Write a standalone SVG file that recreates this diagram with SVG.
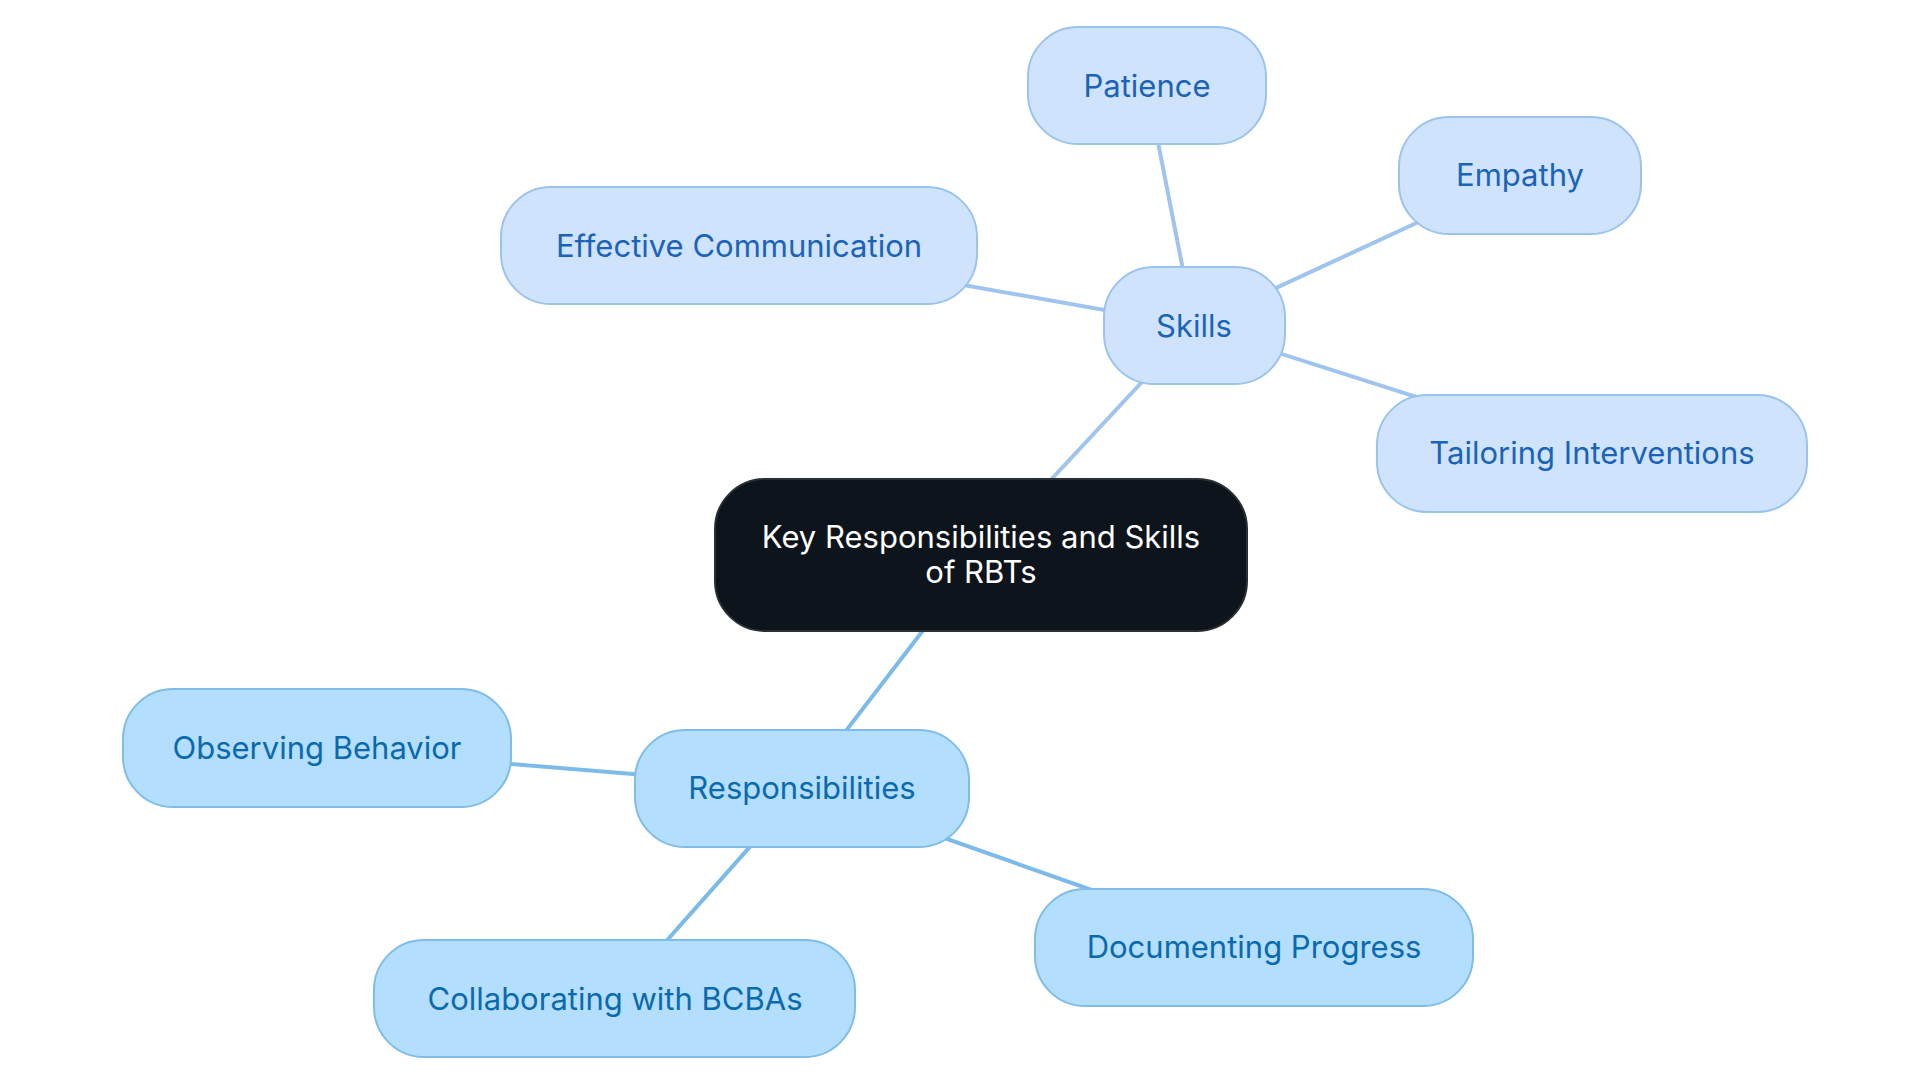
<svg xmlns="http://www.w3.org/2000/svg" width="1920" height="1083" viewBox="0 0 1920 1083">
<style>
text{font-family:Inter,"Open Sans",sans-serif;font-size:31px;text-anchor:middle;dominant-baseline:central}
.s rect{fill:#cfe4fc;stroke:#9cc3ec;stroke-width:2}
.s text{fill:#1b63b8}
.r rect{fill:#b4defd;stroke:#7fbde8;stroke-width:2}
.r text{fill:#0b6aad}
.es{stroke:#9fc4ee;stroke-width:4}
.er{stroke:#7cbbe9;stroke-width:4}
</style>
<rect width="1920" height="1083" fill="#fff"/>
<g id="connectors">
<line class="es" x1="981" y1="555" x2="1194" y2="326"/>
<line class="es" x1="1194" y1="326" x2="1147" y2="86"/>
<line class="es" x1="1194" y1="326" x2="1520" y2="175"/>
<line class="es" x1="1194" y1="326" x2="739" y2="245"/>
<line class="es" x1="1194" y1="326" x2="1592" y2="453"/>
<line class="er" x1="981" y1="555" x2="802" y2="788"/>
<line class="er" x1="802" y1="788" x2="317" y2="748"/>
<line class="er" x1="802" y1="788" x2="615" y2="999"/>
<line class="er" x1="802" y1="788" x2="1254" y2="947"/>
</g>
<g id="center"><rect x="715" y="479" width="532" height="152" rx="50" fill="#0d141b" stroke="#2a2f35" stroke-width="2"/>
<text x="981" y="536" fill="#fff">Key Responsibilities and Skills</text><text x="981" y="571" fill="#fff">of RBTs</text></g>
<g id="skills" class="s"><rect x="1104" y="267" width="181" height="117" rx="50"/><text x="1194" y="325">Skills</text></g>
<g id="patience" class="s"><rect x="1028" y="27" width="238" height="117" rx="50"/><text x="1147" y="85">Patience</text></g>
<g id="empathy" class="s"><rect x="1399" y="117" width="242" height="117" rx="50"/><text x="1520" y="174">Empathy</text></g>
<g id="effcomm" class="s"><rect x="501" y="187" width="476" height="117" rx="50"/><text x="739" y="245">Effective Communication</text></g>
<g id="tailoring" class="s"><rect x="1377" y="395" width="430" height="117" rx="50"/><text x="1592" y="452">Tailoring Interventions</text></g>
<g id="resp" class="r"><rect x="635" y="730" width="334" height="117" rx="50"/><text x="802" y="787">Responsibilities</text></g>
<g id="observing" class="r"><rect x="123" y="689" width="388" height="118" rx="50"/><text x="317" y="747">Observing Behavior</text></g>
<g id="collab" class="r"><rect x="374" y="940" width="481" height="117" rx="50"/><text x="615" y="998">Collaborating with BCBAs</text></g>
<g id="doc" class="r"><rect x="1035" y="889" width="438" height="117" rx="50"/><text x="1254" y="946">Documenting Progress</text></g>
</svg>
